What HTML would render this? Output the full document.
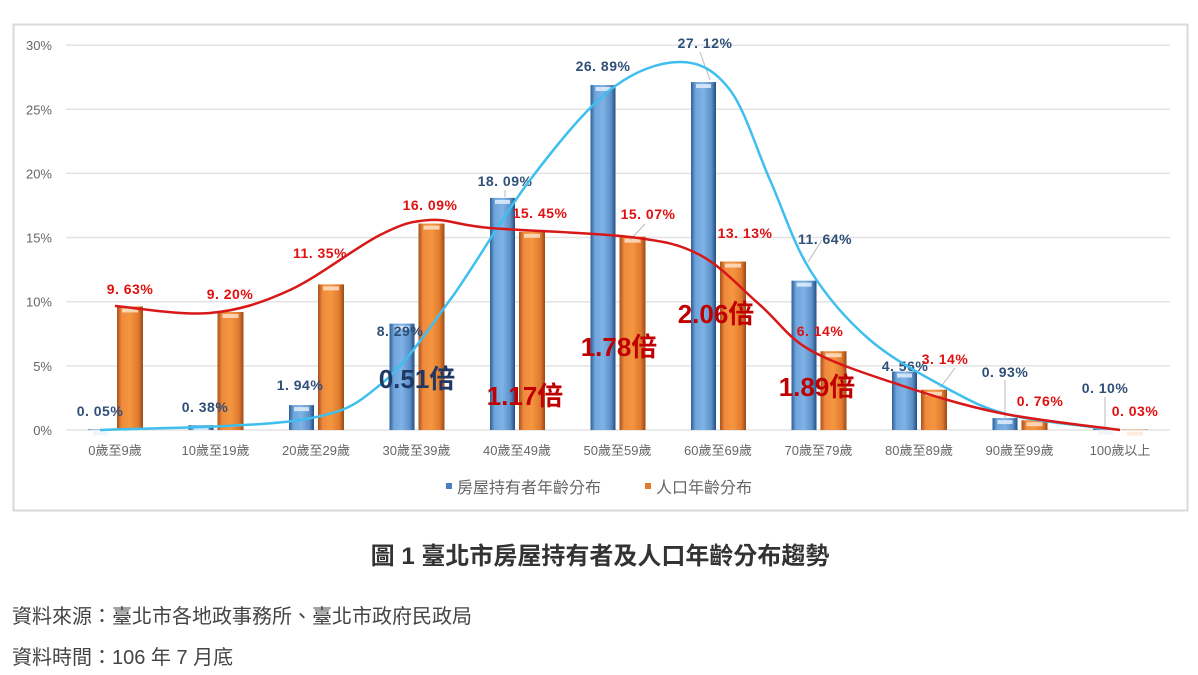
<!DOCTYPE html>
<html><head><meta charset="utf-8"><style>
body{margin:0;background:#fff;width:1198px;height:670px;overflow:hidden;font-family:"Liberation Sans","Noto Sans CJK TC",sans-serif}
</style></head><body>
<svg id="s" width="1198" height="670" xmlns="http://www.w3.org/2000/svg">
<defs>
<linearGradient id="gb" x1="0" x2="1"><stop offset="0" stop-color="#2e5f96"/><stop offset=".18" stop-color="#6fa5dc"/><stop offset=".5" stop-color="#7fb2e5"/><stop offset=".82" stop-color="#5b8fc8"/><stop offset="1" stop-color="#244d7e"/></linearGradient>
<linearGradient id="go" x1="0" x2="1"><stop offset="0" stop-color="#a8501a"/><stop offset=".18" stop-color="#f08a3e"/><stop offset=".5" stop-color="#f5963f"/><stop offset=".82" stop-color="#e07a2e"/><stop offset="1" stop-color="#9a4815"/></linearGradient>
</defs>
<rect x="13.5" y="24.5" width="1174" height="486" fill="#fff" stroke="#d9d9d9" stroke-width="2"/>
<g id="g"></g>
<text x="600" y="564" text-anchor="middle" font-size="24" font-weight="bold" fill="#333">圖 1 臺北市房屋持有者及人口年齡分布趨勢</text>
<text x="12" y="623" font-size="20" fill="#444">資料來源：臺北市各地政事務所、臺北市政府民政局</text>
<text x="12" y="664" font-size="20" fill="#444">資料時間：106 年 7 月底</text>
</svg>
<script>
const g=document.getElementById('g');let h='';
const Y=v=>430-12.83*v;
for(let i=0;i<=6;i++){const y=Y(i*5);h+=`<line x1="66" x2="1170" y1="${y}" y2="${y}" stroke="#e3e3e3" stroke-width="1.5"/><text x="52" y="${y+5}" text-anchor="end" font-size="13" fill="#666">${i*5}%</text>`;}
const B=[0.05,0.38,1.94,8.29,18.09,26.89,27.12,11.64,4.56,0.93,0.10],O=[9.63,9.20,11.35,16.09,15.45,15.07,13.13,6.14,3.14,0.76,0.03];
const cats=['0歲至9歲','10歲至19歲','20歲至29歲','30歲至39歲','40歲至49歲','50歲至59歲','60歲至69歲','70歲至79歲','80歲至89歲','90歲至99歲','100歲以上'];
for(let i=0;i<11;i++){const c=115+100.5*i;
 if(B[i]>0.02){const y=Y(B[i]);h+=`<rect x="${c-27}" y="${y}" width="25" height="${430-y}" fill="url(#gb)"/><rect x="${c-22}" y="${y+2}" width="15" height="4" fill="#eaf3fc" opacity=".8"/>`;}
 if(O[i]>0.02){const y=Y(O[i]);h+=`<rect x="${c+2}" y="${y}" width="26" height="${430-y}" fill="url(#go)"/><rect x="${c+7}" y="${y+2}" width="16" height="4" fill="#fde6d2" opacity=".8"/>`;}
 h+=`<text x="${c}" y="455" text-anchor="middle" font-size="13" fill="#666">${cats[i]}</text>`;}
const bl=[[100,416],[205,412],[300,390],[400,336],[505,186],[603,71],[705,48],[825,244],[905,371],[1005,377],[1105,393]];
const ol=[[130,294],[230,299],[320,258],[430,210],[540,218],[648,219],[745,238],[820,336],[945,364],[1040,406],[1135,416]];
// leader lines
const ll=[[700,52,710,80],[808,262,822,240],[906,375,906,372],[1005,380,1005,418],[1105,397,1105,428],[955,368,940,388],[630,240,645,224],[505,190,505,197]];
for(const l of ll)h+=`<line x1="${l[0]}" y1="${l[1]}" x2="${l[2]}" y2="${l[3]}" stroke="#bbb" stroke-width="1"/>`;
for(let i=0;i<11;i++){h+=`<text x="${bl[i][0]}" y="${bl[i][1]}" text-anchor="middle" font-size="14" font-weight="bold" fill="#2f4f78" letter-spacing="0.5">${B[i].toFixed(2).replace(/^(\d+)\./,'$1. ')}%</text>`;
 h+=`<text x="${ol[i][0]}" y="${ol[i][1]}" text-anchor="middle" font-size="14" font-weight="bold" fill="#e01010" letter-spacing="0.5">${O[i].toFixed(2).replace(/^(\d+)\./,'$1. ')}%</text>`;}
function cr(p){let d=`M${p[0][0]},${p[0][1]}`;for(let i=0;i<p.length-1;i++){const a=p[i-1]||p[i],b=p[i],c=p[i+1],e=p[i+2]||c;d+=` C${b[0]+(c[0]-a[0])/6},${b[1]+(c[1]-a[1])/6} ${c[0]-(e[0]-b[0])/6},${c[1]-(e[1]-b[1])/6} ${c[0]},${c[1]}`;}return d;}
const bc=[[100,430],[300,420],[380,385],[450,300],[530,180],[610,90],[680,62],[730,90],[770,180],[810,270],[870,340],[950,390],[1010,415],[1100,428]];
const rc=[[115,306],[210,313],[290,290],[380,235],[430,220],[490,228],[630,237],[700,255],[760,305],[810,350],[900,385],[1000,413],[1120,430]];
h+=`<path d="${cr(bc)}" fill="none" stroke="#3ebfef" stroke-width="2.5"/><path d="${cr(rc)}" fill="none" stroke="#d81818" stroke-width="2.5"/>`;
const an=[['0.51倍',417,388,'#1f3864'],['1.17倍',525,405,'#c00000'],['1.78倍',619,356,'#c00000'],['2.06倍',716,323,'#c00000'],['1.89倍',817,396,'#c00000']];
for(const a of an)h+=`<text x="${a[1]}" y="${a[2]}" text-anchor="middle" font-size="26" font-weight="bold" fill="${a[3]}">${a[0]}</text>`;
h+=`<rect x="446" y="483" width="6" height="6" fill="#4a7fc0"/><text x="457" y="493" font-size="16" fill="#666">房屋持有者年齡分布</text><rect x="645" y="483" width="6" height="6" fill="#e07a2e"/><text x="656" y="493" font-size="16" fill="#666">人口年齡分布</text>`;
g.innerHTML=h;
</script>
</body></html>
